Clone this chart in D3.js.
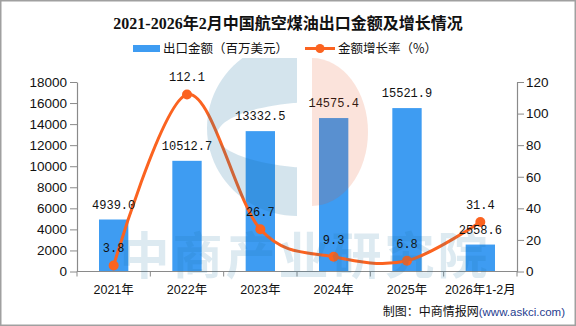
<!DOCTYPE html>
<html><head><meta charset="utf-8">
<script src="https://cdn.jsdelivr.net/npm/d3@7"></script>
<style>
html,body{margin:0;padding:0;background:#fff;}
svg{display:block;}
</style></head>
<body>
<svg id="chart" width="576" height="326"></svg>
<script>
const categories = ["2021年","2022年","2023年","2024年","2025年","2026年1-2月"];
const amountValues = [4939.0,10512.7,13332.5,14575.4,15521.9,2558.6];
const growthValues = [3.8,112.1,26.7,9.3,6.8,31.4];
const leftTicks = [0,2000,4000,6000,8000,10000,12000,14000,16000,18000];
const rightTicks = [0,20,40,60,80,100,120];
const titleText = "2021-2026年2月中国航空煤油出口金额及增长情况";
const legendLabels = ["出口金额（百万美元）","金额增长率（%）"];

const W = 576, H = 326;
const M = {left:77, right:517, top:82, bottom:271.5};
const barColor = "#3e9cf2", lineColor = "#fb6320", axisColor = "#8a8a8a";
const svg = d3.select("#chart");

// border
svg.append("rect").attr("x",0.75).attr("y",0.75).attr("width",W-1.5).attr("height",H-1.5)
  .attr("fill","#fff").attr("stroke","#a0a0a0").attr("stroke-width",1.5);

const x = d3.scaleBand().domain(categories).range([M.left,M.right]).paddingInner(0.6).paddingOuter(0.3);
const yL = d3.scaleLinear().domain([0,18000]).range([M.bottom,M.top]);
const yR = d3.scaleLinear().domain([0,120]).range([M.bottom,M.top]);

// title
svg.append("text").attr("x",288).attr("y",29).attr("text-anchor","middle")
  .attr("font-family","'Liberation Serif','Noto Sans CJK SC',serif").attr("font-weight","bold")
  .attr("font-size",16).attr("fill","#111").text(titleText);

// legend
const lg = svg.append("g").attr("font-family","'Noto Sans CJK SC',sans-serif").attr("font-size",12.5).attr("fill","#111");
lg.append("rect").attr("x",133).attr("y",45).attr("width",27).attr("height",7).attr("fill",barColor);
lg.append("text").attr("x",163).attr("y",53).text(legendLabels[0]);
lg.append("line").attr("x1",305).attr("x2",335).attr("y1",48.5).attr("y2",48.5).attr("stroke",lineColor).attr("stroke-width",3);
lg.append("circle").attr("cx",320).attr("cy",48.5).attr("r",4.5).attr("fill",lineColor);
lg.append("text").attr("x",338).attr("y",53).text(legendLabels[1]);

// bars
svg.append("g").selectAll("rect").data(amountValues).join("rect")
  .attr("x",(d,i)=>x(categories[i])).attr("width",x.bandwidth())
  .attr("y",d=>yL(d)).attr("height",d=>yL(0)-yL(d)).attr("fill",barColor);

// axes
const tickFont = "'Liberation Sans','Noto Sans CJK SC',sans-serif";
const axL = svg.append("g").attr("transform",`translate(${M.left},0)`)
  .call(d3.axisLeft(yL).tickValues(leftTicks).tickFormat(d3.format("d")).tickSize(7).tickSizeOuter(0).tickPadding(3));
const axR = svg.append("g").attr("transform",`translate(${M.right},0)`)
  .call(d3.axisRight(yR).tickValues(rightTicks).tickFormat(d3.format("d")).tickSize(7).tickSizeOuter(0).tickPadding(2));
const axB = svg.append("g").attr("transform",`translate(0,${M.bottom})`)
  .call(d3.axisBottom(x).tickSize(0).tickPadding(14));
// band boundary ticks on x axis
const bounds = categories.map(c=>x(c)-x.step()*x.paddingInner()/2).concat([M.right]);
axB.selectAll(".bt").data(bounds).join("line").attr("class","bt")
  .attr("x1",d=>d).attr("x2",d=>d).attr("y1",0).attr("y2",5).attr("stroke",axisColor);
axB.select(".domain").attr("d",`M${M.left},0H${M.right}`);
[axL,axR,axB].forEach(a=>{
  a.selectAll(".domain").attr("stroke",axisColor).attr("stroke-width",1.2);
  a.selectAll(".tick line").attr("stroke",axisColor);
  a.selectAll("text").attr("font-family",tickFont).attr("fill","#111");
});
axL.selectAll("text").attr("font-size",13.5);
axR.selectAll("text").attr("font-size",13.5);
axB.selectAll("text").attr("font-size",12.5);

// line
const pts = growthValues.map((g,i)=>[x(categories[i])+x.bandwidth()/2, yR(g)]);
svg.append("path").attr("d",d3.line().curve(d3.curveCatmullRom.alpha(0))(pts))
  .attr("fill","none").attr("stroke",lineColor).attr("stroke-width",3);
svg.append("g").selectAll("circle").data(pts).join("circle")
  .attr("cx",d=>d[0]).attr("cy",d=>d[1]).attr("r",5).attr("fill",lineColor);

// data labels
const labFont = "'Liberation Mono','DejaVu Sans Mono',monospace";
svg.append("g").selectAll("text").data(amountValues).join("text")
  .attr("x",(d,i)=>x(categories[i])+x.bandwidth()/2).attr("y",d=>yL(d)-11)
  .attr("text-anchor","middle").attr("font-family",labFont).attr("font-size",12).attr("fill","#111")
  .text(d=>d.toFixed(1));
svg.append("g").selectAll("text").data(growthValues).join("text")
  .attr("x",(d,i)=>x(categories[i])+x.bandwidth()/2).attr("y",d=>yR(d)-13)
  .attr("text-anchor","middle").attr("font-family",labFont).attr("font-size",12).attr("fill","#111")
  .text(d=>d.toFixed(1));

// watermark (overlay, translucent)
const wm = svg.append("g").attr("pointer-events","none");
const defs = svg.append("defs");
defs.append("clipPath").attr("id","cclip").append("rect").attr("x",0).attr("y",58).attr("width",297).attr("height",200);
defs.append("clipPath").attr("id","pclip").append("rect").attr("x",312).attr("y",58).attr("width",100).attr("height",200);
wm.append("path").attr("clip-path","url(#cclip)").attr("fill-rule","evenodd")
  .attr("d","M297,40 a90,88 0 1,0 0.01,0 Z M320,102 a103,33 0 1,0 0.01,0 Z")
  .attr("fill","#1a6fa0").attr("fill-opacity",0.19);
wm.append("ellipse").attr("clip-path","url(#pclip)").attr("cx",312).attr("cy",132).attr("rx",56).attr("ry",74)
  .attr("fill","#e8501e").attr("fill-opacity",0.16);
wm.append("text").attr("x",305).attr("y",274).attr("text-anchor","middle")
  .attr("font-family","'Noto Sans CJK SC',sans-serif").attr("font-weight","bold").attr("font-size",50)
  .attr("letter-spacing",3).attr("fill","#1a6fa0").attr("fill-opacity",0.15).text("中商产业研究院");

// footer
const ft = svg.append("text").attr("x",565).attr("y",316).attr("text-anchor","end");
ft.append("tspan").attr("font-family","'Noto Sans CJK SC',sans-serif").attr("font-size",12).attr("fill","#111").text("制图：中商情报网");
ft.append("tspan").attr("font-family","'Liberation Sans',sans-serif").attr("font-size",11.5).attr("fill","#1f3d8f").text("(www.askci.com)");
</script>
</body></html>
